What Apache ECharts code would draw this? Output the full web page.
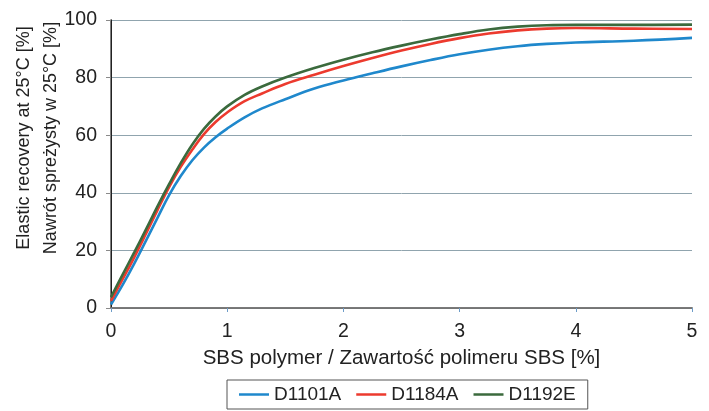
<!DOCTYPE html>
<html>
<head>
<meta charset="utf-8">
<script src="https://cdn.jsdelivr.net/npm/echarts@6/dist/echarts.min.js"></script>
<style>html,body{margin:0;padding:0;background:#fff}#c{width:709px;height:411px}</style>
</head>
<body>
<div id="c"></div>
<script>
const seriesNames = ['D1101A', 'D1184A', 'D1192E'];
const xTicks = [0, 1, 2, 3, 4, 5];
const yTicks = [0, 20, 40, 60, 80, 100];
const xValues = [0, 0.1, 0.2, 0.3, 0.4, 0.5, 0.6, 0.7, 0.8, 0.9, 1.0, 1.15, 1.3, 1.5, 1.75, 2.0, 2.25, 2.5, 2.75, 3.0, 3.25, 3.5, 3.75, 4.0, 4.5, 5.0];
const d1101A = [1.2, 8.0, 15.4, 23.3, 31.3, 39.2, 45.8, 51.3, 55.7, 59.3, 62.3, 66.2, 69.3, 72.5, 76.2, 79.0, 81.5, 83.9, 86.1, 88.1, 89.7, 90.9, 91.7, 92.2, 92.8, 93.8];
const d1184A = [2.5, 10.0, 17.6, 25.7, 34.0, 42.0, 49.0, 55.0, 60.4, 64.6, 67.9, 71.8, 74.5, 77.8, 81.0, 84.0, 86.8, 89.4, 91.7, 93.7, 95.3, 96.4, 97.0, 97.2, 97.0, 96.9];
const d1192E = [3.8, 11.6, 19.3, 27.2, 35.3, 43.0, 50.3, 56.8, 62.2, 66.5, 70.0, 74.0, 76.9, 80.0, 83.3, 86.2, 88.8, 91.1, 93.2, 95.1, 96.7, 97.7, 98.2, 98.3, 98.3, 98.4];
const yTitle = ['Elastic recovery at 25°C [%]', 'Nawrót spreżysty w 25°C [%]'];
const xTitle = 'SBS polymer / Zawartość polimeru SBS [%]';

const colors = ['#1f88cc', '#ec3a2e', '#3b6a3d'];
const font = 'Liberation Sans, Arial, sans-serif';
const chart = echarts.init(document.getElementById('c'), null, {renderer: 'canvas'});
const pairs = vals => xValues.map((x, i) => [x, vals[i]]);
const mk = (name, vals, i) => ({
  name, type: 'line', data: pairs(vals), smooth: 0.4, showSymbol: false, symbol: 'none',
  lineStyle: {color: colors[i], width: 2.6}, itemStyle: {color: colors[i]}, z: 3 + i
});
chart.setOption({
  animation: false,
  color: colors,
  grid: {left: 111, right: 17, top: 20, bottom: 103, containLabel: false},
  xAxis: [{
    type: 'value', min: xTicks[0], max: xTicks[xTicks.length - 1], interval: 1,
    name: xTitle, nameLocation: 'middle', nameGap: 40,
    nameTextStyle: {fontFamily: font, fontSize: 20.5, color: '#222'},
    axisLine: {lineStyle: {color: '#555', width: 1.5}},
    axisTick: {show: true, length: 4, lineStyle: {color: '#6d9cc8'}},
    axisLabel: {fontFamily: font, fontSize: 19.5, color: '#222', margin: 14},
    splitLine: {show: false}
  }, {
    type: 'value', position: 'top', min: 0, max: 5,
    axisLine: {show: true, lineStyle: {color: '#7a7a7a', width: 1.5}},
    axisTick: {show: false}, axisLabel: {show: false}, splitLine: {show: false}
  }],
  yAxis: [{
    type: 'value', min: yTicks[0], max: yTicks[yTicks.length - 1], interval: 20,
    axisLine: {show: true, lineStyle: {color: '#555', width: 1.5}},
    axisTick: {show: true, length: 5, lineStyle: {color: '#8a8a8a'}},
    axisLabel: {fontFamily: font, fontSize: 19.5, color: '#222', margin: 14},
    splitLine: {show: true, lineStyle: {color: '#90a4ae', width: 1}}
  }, {
    type: 'value', position: 'right', min: 0, max: 100,
    axisLine: {show: true, lineStyle: {color: '#222', width: 1}},
    axisTick: {show: false}, axisLabel: {show: false}, splitLine: {show: false}
  }],
  legend: {
    data: seriesNames, left: 227, top: 380,
    padding: [5, 12, 5, 12], itemGap: 15,
    borderColor: '#555', borderWidth: 1,
    icon: 'rect', itemWidth: 30, itemHeight: 2.5,
    textStyle: {fontFamily: font, fontSize: 19, color: '#222'}
  },
  graphic: [{
    type: 'text', x: 38, y: 138, rotation: Math.PI / 2,
    style: {
      text: yTitle.join('\n'), fontFamily: font, fontSize: 18, fill: '#222',
      align: 'center', verticalAlign: 'middle', lineHeight: 27
    }
  }],
  series: [mk(seriesNames[0], d1101A, 0), mk(seriesNames[1], d1184A, 1), mk(seriesNames[2], d1192E, 2)]
});
</script>
</body>
</html>
